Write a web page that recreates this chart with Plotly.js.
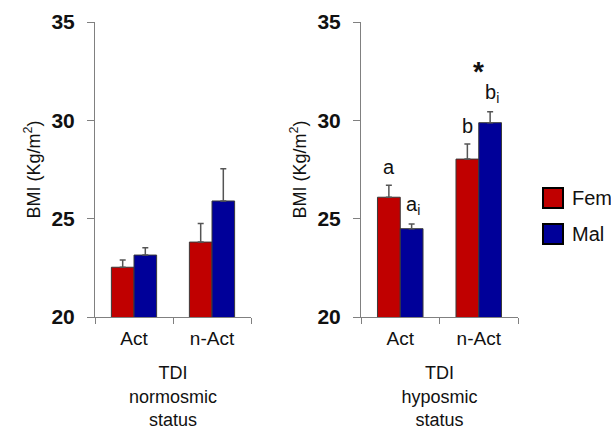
<!DOCTYPE html>
<html>
<head>
<meta charset="utf-8">
<script src="https://cdn.plot.ly/plotly-3.0.1.min.js"></script>
<style>html,body{margin:0;padding:0;background:#fff;}#chart{width:611px;height:430px;}</style>
</head>
<body>
<div id="chart"></div>
<script>
// ---- data ----
const categories = ["Act", "n-Act"];
const seriesNames = ["Fem", "Mal"];
// TDI normosmic status
const normoFem = [22.53, 23.81];
const normoFemErr = [0.37, 0.95];
const normoMal = [23.15, 25.90];
const normoMalErr = [0.37, 1.64];
// TDI hyposmic status
const hypoFem = [26.09, 28.03];
const hypoFemErr = [0.61, 0.77];
const hypoMal = [24.49, 29.88];
const hypoMalErr = [0.24, 0.56];
// significance letters (hyposmic panel)
const femLetters = ["a", "b"];
const malLetters = ["a<sub>i</sub>", "b<sub>i</sub>"];
const starLabels = ["", "*"];
const yTicks = [20, 25, 30, 35];
const yTitle = "BMI (Kg/m<sup>2</sup>)";
const xTitles = ["TDI<br>normosmic<br>status", "TDI<br>hyposmic<br>status"];

const FONT = "Liberation Sans, Arial, sans-serif";
const RED = "#c00000", BLUE = "#000099";
const seriesColors = [RED, BLUE];
const zeros = categories.map(() => 0);

function barTrace(y, err, name, color, xa, ya) {
  return {
    type: "bar", x: categories, y: y, name: name, xaxis: xa, yaxis: ya,
    showlegend: false,
    marker: {color: color, line: {color: "#3a3a3a", width: 1}},
    error_y: {type: "data", symmetric: false, array: err, arrayminus: zeros,
              color: "#555555", thickness: 1.5, width: 3},
    hoverinfo: "none"
  };
}

const data = [
  barTrace(normoFem, normoFemErr, seriesNames[0], RED, "x", "y"),
  barTrace(normoMal, normoMalErr, seriesNames[1], BLUE, "x", "y"),
  barTrace(hypoFem, hypoFemErr, seriesNames[0], RED, "x2", "y2"),
  barTrace(hypoMal, hypoMalErr, seriesNames[1], BLUE, "x2", "y2")
];

function xaxis(domain, title, anchor) {
  return {
    domain: domain, anchor: anchor, type: "category", range: [-0.5, 1.5],
    showline: true, linecolor: "#808080", linewidth: 1,
    ticks: "outside", tickson: "boundaries", ticklen: 6, tickcolor: "#808080",
    tickfont: {family: FONT, size: 19, color: "#111"},
    ticklabelstandoff: 4,
    showgrid: false, zeroline: false, fixedrange: true,
    title: {text: title, font: {family: FONT, size: 18, color: "#111"}, standoff: 22}
  };
}
function yaxis(domain, anchor) {
  return {
    domain: domain, anchor: anchor, range: [20, 35], tickvals: yTicks,
    showline: true, linecolor: "#808080", linewidth: 1,
    ticks: "outside", ticklen: 7, tickcolor: "#808080",
    tickfont: {family: FONT, size: 21, color: "#111", weight: "bold"},
    ticklabelstandoff: 8,
    showgrid: false, zeroline: false, fixedrange: true,
    title: {text: yTitle, font: {family: FONT, size: 18, color: "#111"}, standoff: 6}
  };
}

const annotations = [];
categories.forEach((c, i) => {
  annotations.push({x: c, y: hypoFem[i] + hypoFemErr[i], xref: "x2", yref: "y2",
    text: femLetters[i], showarrow: false, xshift: -11, yshift: 18, yanchor: "middle",
    font: {family: FONT, size: 20, color: "#111"}});
  annotations.push({x: c, y: hypoMal[i] + hypoMalErr[i], xref: "x2", yref: "y2",
    text: malLetters[i], showarrow: false, xshift: 13, yshift: 18, yanchor: "middle",
    font: {family: FONT, size: 20, color: "#111"}});
  if (starLabels[i]) {
    annotations.push({x: c, y: Math.max(hypoFem[i] + hypoFemErr[i], hypoMal[i] + hypoMalErr[i]),
      xref: "x2", yref: "y2", text: starLabels[i], showarrow: false, yshift: 40, yanchor: "middle",
      font: {family: FONT, size: 28, color: "#111", weight: "bold"}});
  }
});

// legend drawn as boxes + labels (paper coords)
const shapes = [];
seriesNames.forEach((n, k) => {
  const top = 188 + k * 36;
  shapes.push({type: "rect", xref: "paper", yref: "paper",
    x0: 543/611, x1: 563/611, y0: 1 - (top + 20)/430, y1: 1 - top/430,
    fillcolor: seriesColors[k], line: {color: "#000", width: 2}});
  annotations.push({xref: "paper", yref: "paper", x: 570/611, y: 1 - (top + 10)/430,
    xanchor: "left", yanchor: "middle", text: n, showarrow: false,
    font: {family: FONT, size: 20, color: "#111"}});
});

const layout = {
  width: 611, height: 430,
  margin: {l: 0, r: 0, t: 0, b: 0},
  paper_bgcolor: "#fff", plot_bgcolor: "#fff",
  barmode: "group", bargap: 0.42, bargroupgap: 0,
  xaxis: xaxis([95/611, 251/611], xTitles[0], "y"),
  yaxis: yaxis([1 - 317/430, 1 - 22/430], "x"),
  xaxis2: xaxis([361/611, 518/611], xTitles[1], "y2"),
  yaxis2: yaxis([1 - 317/430, 1 - 22/430], "x2"),
  showlegend: false,
  shapes: shapes,
  annotations: annotations,
  font: {family: FONT}
};

Plotly.newPlot("chart", data, layout, {staticPlot: true, displayModeBar: false});
</script>
</body>
</html>
